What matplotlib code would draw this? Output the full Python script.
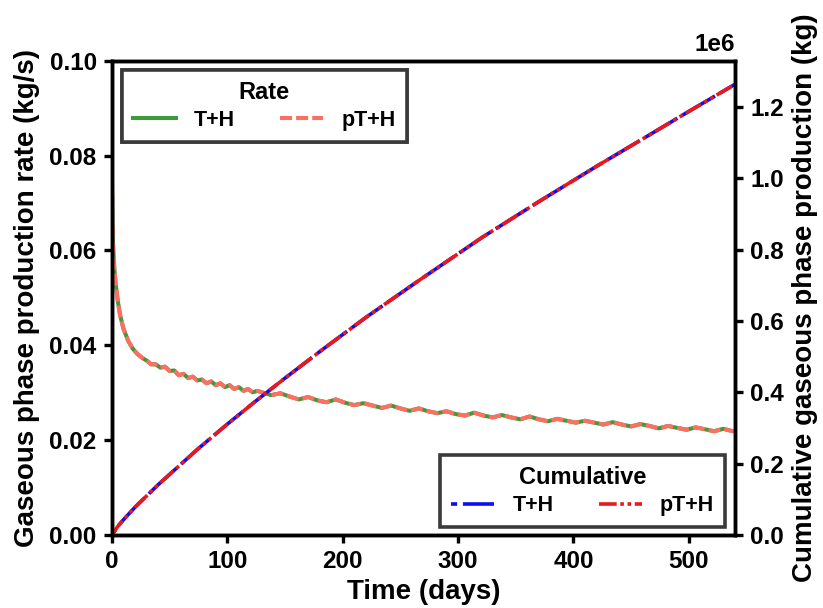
import matplotlib
matplotlib.use("Agg")
import matplotlib.pyplot as plt

plt.rcParams['font.family'] = ['Liberation Sans', 'DejaVu Sans']
plt.rcParams['font.weight'] = 'bold'

# ---- data ----
t_rate = [0, 0.5, 1, 2, 3, 5, 7, 10, 14, 18, 22, 26,
          30, 34, 38, 42, 46, 50, 54, 58, 62, 66, 70, 74, 78, 82, 86, 90, 94, 98,
          102, 106, 110, 114, 118, 122, 126,
          130, 138, 146, 154, 162, 170, 178, 186, 194, 202, 210, 218, 226, 234, 242,
          250, 258, 266, 274, 282, 290, 298, 306, 314, 322, 330, 338, 346, 354, 362,
          370, 378, 386, 394, 402, 410, 418, 426, 434, 442, 450, 458, 466, 474, 482,
          490, 498, 506, 514, 522, 530, 538, 540]
rate_th = [0.0755, 0.0660, 0.0610, 0.0565, 0.0535, 0.0495, 0.0465, 0.0435, 0.0410, 0.0393,
           0.0382, 0.0374,
           0.0368, 0.0360, 0.0360, 0.0353, 0.0355, 0.0346, 0.0347, 0.0337, 0.0340, 0.0331,
           0.0334, 0.0326, 0.0328, 0.0320, 0.0324, 0.0316, 0.0320, 0.0312,
           0.0316, 0.0308, 0.0312, 0.0304, 0.0308, 0.0301, 0.0304,
           0.0301, 0.0295, 0.0299, 0.0292, 0.0286, 0.0291, 0.0284, 0.0280, 0.0286, 0.0279,
           0.0274, 0.0278, 0.0273, 0.0268, 0.0273,
           0.0267, 0.0262, 0.0267, 0.0261, 0.0257, 0.0261, 0.0255, 0.0252, 0.0258, 0.0252,
           0.0248, 0.0253, 0.0248, 0.0244, 0.0250,
           0.0244, 0.0240, 0.0245, 0.0241, 0.0237, 0.0241, 0.0237, 0.0233, 0.0238, 0.0233,
           0.0229, 0.0234, 0.0230, 0.0225, 0.0230,
           0.0226, 0.0222, 0.0227, 0.0223, 0.0219, 0.0224, 0.0219, 0.0220]
# the pT+H rate curve lies on top of the T+H curve in the reference
rate_pth = list(rate_th)

t_cum = [0, 5, 10, 20, 40, 74, 100, 124, 150, 182, 220, 267, 321, 370, 421, 458, 500, 540]
cum_th = [0, 0.024e6, 0.043e6, 0.078e6, 0.141e6, 0.240e6, 0.311e6, 0.374e6, 0.440e6,
          0.519e6, 0.610e6, 0.716e6, 0.835e6, 0.935e6, 1.036e6, 1.107e6, 1.188e6, 1.264e6]
# the pT+H cumulative curve coincides with T+H in the reference
cum_pth = list(cum_th)

x_ticks = [0, 100, 200, 300, 400, 500]
y_ticks = [0.00, 0.02, 0.04, 0.06, 0.08, 0.10]
y2_ticks = [0, 0.2e6, 0.4e6, 0.6e6, 0.8e6, 1.0e6, 1.2e6]

fig = plt.figure(figsize=(8.23, 6.08), dpi=100)
ax = fig.add_axes([0.136, 0.120, 0.757, 0.780])
ax2 = ax.twinx()

l1, = ax.plot(t_rate, rate_th, color='#3d9a3d', lw=2.9, ls='-', label='T+H')
l2, = ax.plot(t_rate, rate_pth, color='#ff6f61', lw=2.9, ls=(0, (3.0, 1.0)), label='pT+H')
l3, = ax2.plot(t_cum, cum_th, color='#0a10f0', lw=2.6, ls=(8.8, (10.5, 1.6)), label='T+H')
l4, = ax2.plot(t_cum, cum_pth, color='#e8191c', lw=2.6, ls=(0, (4.9, 1.0, 1.0, 1.0, 1.0, 1.0)),
               label='pT+H')

ax.set_xlim(0, 540)
ax.set_ylim(0, 0.10)
ax2.set_ylim(0, 1.33e6)
ax.set_xticks(x_ticks)
ax.set_yticks(y_ticks)
ax.set_yticklabels([f"{v:.2f}" for v in y_ticks])
ax2.set_yticks(y2_ticks)

ax.set_xlabel('Time (days)', fontsize=20, fontweight='bold', labelpad=4)
ax.set_ylabel('Gaseous phase production rate (kg/s)', fontsize=20, fontweight='bold', labelpad=7)
ax2.set_ylabel('Cumulative gaseous phase production (kg)', fontsize=20, fontweight='bold', labelpad=6)

for a in (ax, ax2):
    for s in a.spines.values():
        s.set_linewidth(2.5)
    a.tick_params(axis='both', labelsize=17.5, width=2.4, length=6, pad=5)
ax2.yaxis.OFFSETTEXTPAD = 7
ax2.yaxis.get_offset_text().set_fontsize(17.5)
ax2.yaxis.get_offset_text().set_fontweight('bold')

leg1 = ax.legend(handles=[l1, l2], title='Rate', ncol=2, loc='upper left',
                 bbox_to_anchor=(0.016, 0.981), borderaxespad=0, fontsize=15.5,
                 title_fontsize=17, fancybox=False, edgecolor='#3a3a3a', framealpha=1,
                 handlelength=2.0, handletextpad=0.85, columnspacing=2.1,
                 borderpad=0.5, labelspacing=0.3)
leg1.get_frame().set_linewidth(2.6)
leg1.get_title().set_fontweight('bold')
ax.add_artist(leg1)

leg2 = ax2.legend(handles=[l3, l4], title='Cumulative', ncol=2, loc='lower right',
                  bbox_to_anchor=(0.984, 0.017), borderaxespad=0, fontsize=15.5,
                  title_fontsize=17, fancybox=False, edgecolor='#3a3a3a', framealpha=1,
                  handlelength=2.0, handletextpad=0.85, columnspacing=2.1,
                  borderpad=0.5, labelspacing=0.3)
leg2.get_frame().set_linewidth(2.6)
leg2.get_title().set_fontweight('bold')

fig.savefig('out.png', dpi=100)
